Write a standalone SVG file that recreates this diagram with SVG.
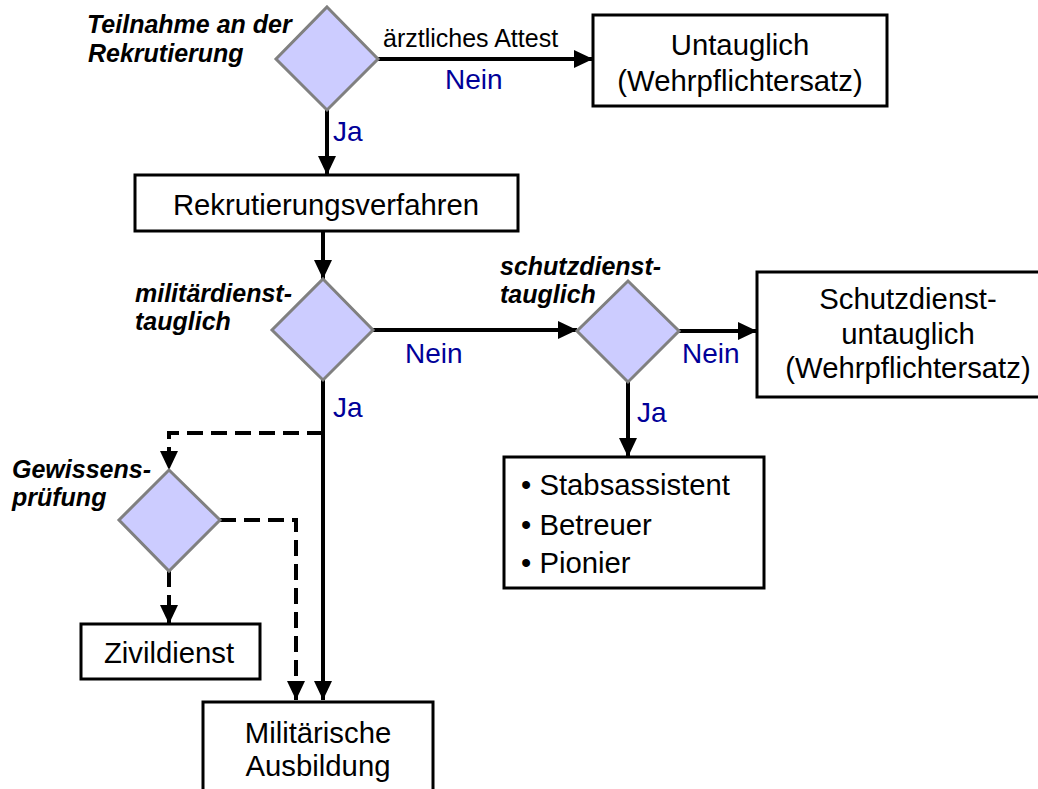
<svg xmlns="http://www.w3.org/2000/svg" width="1038" height="789" viewBox="0 0 1038 789">
<style>
.box{fill:#fff;stroke:#000;stroke-width:3}
.dia{fill:#ccccff;stroke:#808080;stroke-width:3}
.t{font-family:"Liberation Sans",Arial,sans-serif;font-size:29.3px;fill:#000}
.m{text-anchor:middle}
.q{font-family:"Liberation Sans",Arial,sans-serif;font-size:25px;font-weight:bold;font-style:italic;fill:#000}
.b{font-family:"Liberation Sans",Arial,sans-serif;font-size:28px;fill:#000099}
.c{fill:none;stroke:#000;stroke-width:4;marker-end:url(#ah)}
.d{stroke-dasharray:16 8}
</style>
<defs>
<marker id="ah" markerUnits="userSpaceOnUse" markerWidth="20" markerHeight="20" viewBox="0 0 20 20" refX="19" refY="10" orient="auto">
<path d="M0,1 L19,10 L0,19 Z" fill="#000" stroke="none"/>
</marker>
</defs>
<g id="connectors">
<path class="c" d="M378,59 H593"/>
<path class="c" d="M327,110 V175"/>
<path class="c" d="M323,231 V279"/>
<path class="c" d="M373,330 H577"/>
<path class="c" d="M679,331 H757"/>
<path class="c" d="M628,382 V457"/>
<path class="c" d="M323,380 V700"/>
<path class="c d" d="M323,433 H169 V470"/>
<path class="c d" d="M220,520 H296 V700"/>
<path class="c d" d="M169,571 V624"/>
<text class="t" x="383" y="47" style="font-size:25px">ärztliches Attest</text>
<text class="b" x="445" y="89">Nein</text>
<text class="b" x="333" y="141">Ja</text>
<text class="b" x="405" y="363">Nein</text>
<text class="b" x="682" y="363">Nein</text>
<text class="b" x="333" y="417">Ja</text>
<text class="b" x="637" y="422">Ja</text>
</g>
<g id="d1">
<polygon class="dia" points="327,7 378,59 327,110 276,59"/>
<text class="q" x="87" y="33">Teilnahme an der</text>
<text class="q" x="88" y="62">Rekrutierung</text>
</g>
<g id="untauglich">
<rect class="box" x="593" y="15" width="294" height="91"/>
<text class="t m" x="740" y="55">Untauglich</text>
<text class="t m" x="740" y="91">(Wehrpflichtersatz)</text>
</g>
<g id="rekrutierung">
<rect class="box" x="135" y="175" width="383" height="56"/>
<text class="t m" x="326" y="215">Rekrutierungsverfahren</text>
</g>
<g id="d2">
<polygon class="dia" points="323,279 373,330 323,380 272,330"/>
<text class="q" x="135" y="302">militärdienst-</text>
<text class="q" x="135" y="330">tauglich</text>
</g>
<g id="d3">
<polygon class="dia" points="628,281 679,331 628,382 577,331"/>
<text class="q" x="500" y="275">schutzdienst-</text>
<text class="q" x="500" y="303">tauglich</text>
</g>
<g id="schutzdienstuntauglich">
<rect class="box" x="757" y="272" width="300" height="125"/>
<text class="t m" x="908" y="309">Schutzdienst-</text>
<text class="t m" x="908" y="344">untauglich</text>
<text class="t m" x="908" y="378">(Wehrpflichtersatz)</text>
</g>
<g id="stabs">
<rect class="box" x="504" y="457" width="260" height="131"/>
<text class="t" x="521" y="495">• Stabsassistent</text>
<text class="t" x="521" y="535">• Betreuer</text>
<text class="t" x="521" y="573">• Pionier</text>
</g>
<g id="d4">
<polygon class="dia" points="169,470 220,520 169,571 119,520"/>
<text class="q" x="12" y="478">Gewissens-</text>
<text class="q" x="12" y="506">prüfung</text>
</g>
<g id="zivildienst">
<rect class="box" x="81" y="624" width="179" height="55"/>
<text class="t m" x="169" y="663">Zivildienst</text>
</g>
<g id="militaerisch">
<rect class="box" x="203" y="702" width="230" height="100"/>
<text class="t m" x="318" y="743">Militärische</text>
<text class="t m" x="318" y="776">Ausbildung</text>
</g>
</svg>
